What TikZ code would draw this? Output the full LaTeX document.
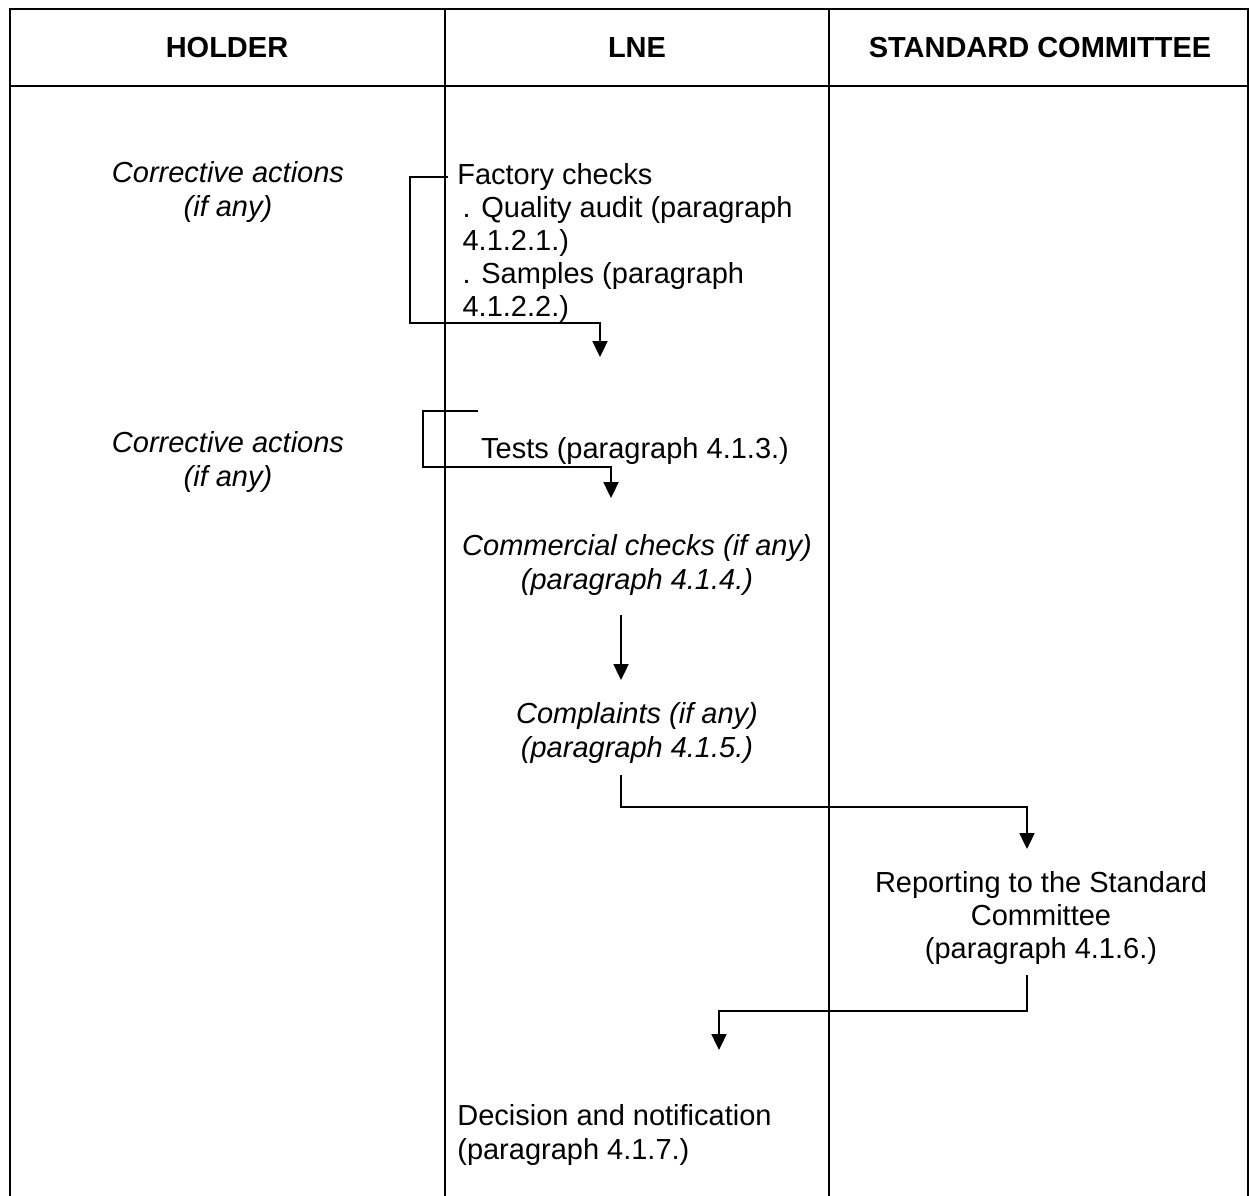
\documentclass[tikz,border=0pt]{standalone}
\usepackage{fontspec}
\setmainfont{Liberation Sans}
\usetikzlibrary{
	arrows.meta,
	calc
}
\newcommand{\flowsize}{\fontsize{16.5pt}{18.8pt}\selectfont}

\begin{document}
\begin{tikzpicture}[x=0.02cm, y=-0.02cm,
	every node/.style={inner sep=0pt, font=\flowsize},
	hdr/.style={font=\flowsize\bfseries},
	txt/.style={align=center},
	itxt/.style={align=center, font=\flowsize\itshape},
	ltxt/.style={align=left, anchor=west},
	rule/.style={line width=1.5pt},
	flow/.style={line width=1.1pt, -{Triangle[width=8.5pt,length=9pt]}}]
                \useasboundingbox (0,0) rectangle (1249,1196);
                % table
                \draw[rule] (10,1196) -- (10,9) -- (1248,9) -- (1248,1196);
                \draw[rule] (10,86) -- (1248,86);
                \draw[rule] (445,9) -- (445,1196);
                \draw[rule] (829,9) -- (829,1196);
                % headings
                \node[hdr] (holder) at (227,48) {HOLDER};
                \node[hdr] (lne) at (637,48) {LNE};
                \node[hdr] (stdcom) at (1040,48) {STANDARD COMMITTEE};
                % holder column
                \node[itxt] (corr1) at (228,192) {Corrective actions\\(if any)};
                \node[itxt] (corr2) at (228,462) {Corrective actions\\(if any)};
                % lne column
                \node[ltxt] (factory) at (457,243) {Factory checks\\
                    \hspace*{3pt}. Quality audit (paragraph\\
                    \hspace*{3pt}4.1.2.1.)\\
                    \hspace*{3pt}. Samples (paragraph\\
                    \hspace*{3pt}4.1.2.2.)};
                \node[txt] (tests) at (635,451) {Tests (paragraph 4.1.3.)};
                \node[itxt] (commercial) at (637,565) {Commercial checks (if any)\\(paragraph 4.1.4.)};
                \node[itxt] (complaints) at (637,733) {Complaints (if any)\\(paragraph 4.1.5.)};
                \node[ltxt] (decision) at (457,1135) {Decision and notification\\(paragraph 4.1.7.)};
                % committee column
                \node[txt] (reporting) at (1041,918) {Reporting to the Standard\\Committee\\(paragraph 4.1.6.)};
                % connectors
                \coordinate (fcin) at (448,177);
                \coordinate (fcout) at (600,357);
                \coordinate (tsin) at (478,411);
                \coordinate (tsout) at (611,498);
                \coordinate (cmout) at (621,615);
                \coordinate (cpin) at (621,680);
                \coordinate (cpout) at (621,775);
                \coordinate (rpin) at (1027,849);
                \coordinate (rpout) at (1027,975);
                \coordinate (dcin) at (719,1050);
                \draw[flow] (fcin) -| (410,323) -| (fcout);
                \draw[flow] (tsin) -| (423,467) -| (tsout);
                \draw[flow] (cmout) -- (cpin);
                \draw[flow] (cpout) -- ++(0,32) -| (rpin);
                \draw[flow] (rpout) -- ++(0,36) -| (dcin);
\end{tikzpicture}
\end{document}
